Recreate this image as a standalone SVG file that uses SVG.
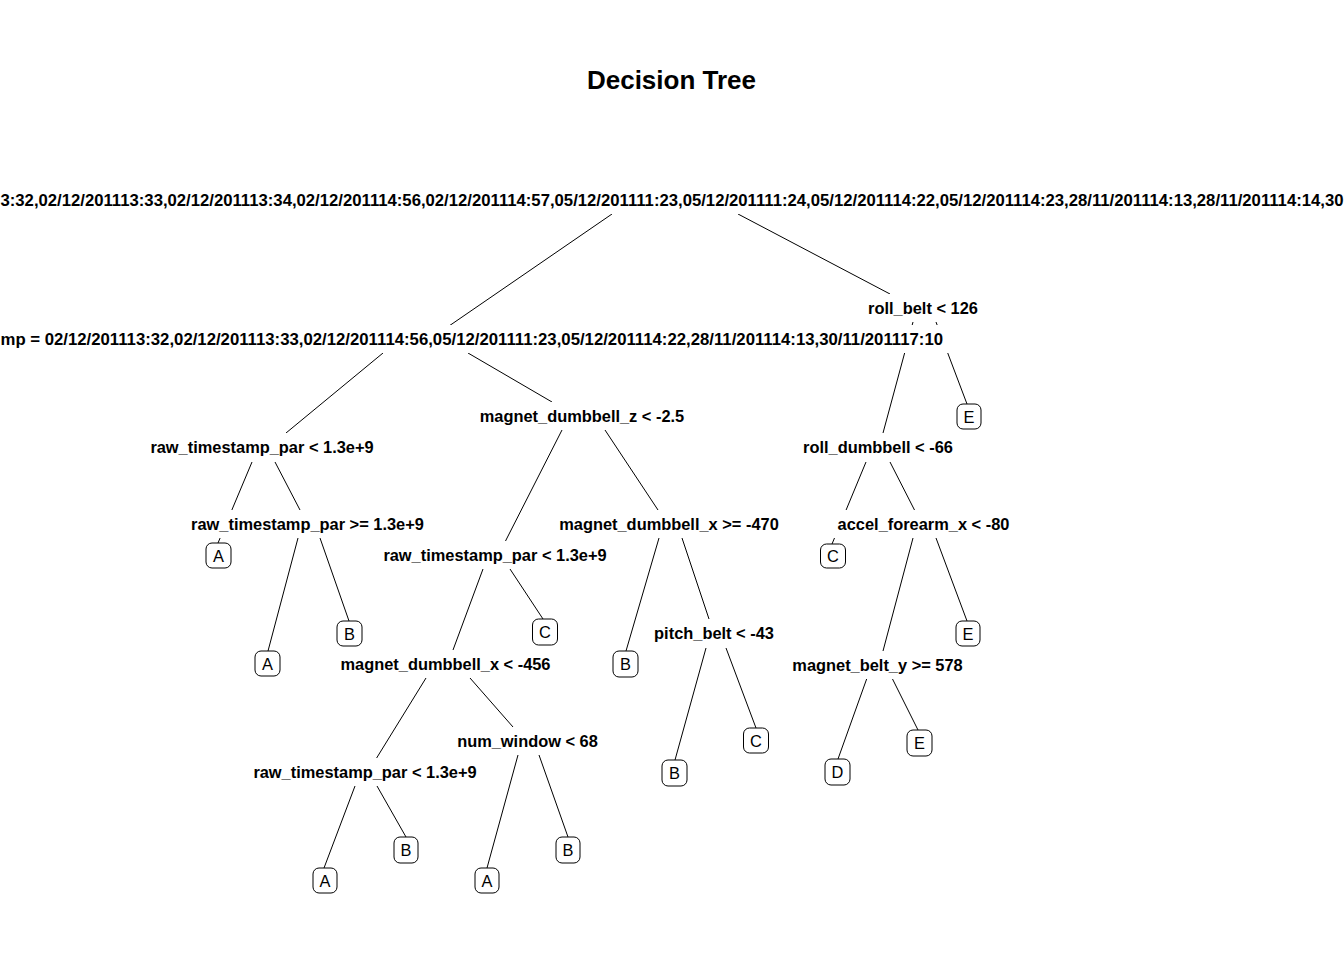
<svg xmlns="http://www.w3.org/2000/svg" width="1344" height="960" viewBox="0 0 1344 960">
<style>
.bg{fill:#fff}
.lbl{font-family:"Liberation Sans",Arial,sans-serif;font-weight:bold;font-size:16.4px;fill:#000;text-anchor:middle}
.lbox{fill:#fff;stroke:none}
.leaf rect{fill:#fff;stroke:#000;stroke-width:1}
.leaf text{font-family:"Liberation Sans",Arial,sans-serif;font-size:16.4px;fill:#000;text-anchor:middle}
#connectors line{stroke:#000;stroke-width:1;fill:none}
.title{font-family:"Liberation Sans",Arial,sans-serif;font-weight:bold;font-size:26px;fill:#000;text-anchor:middle}
</style>
<rect class="bg" x="0" y="0" width="1344" height="960"/>
<text class="title" x="671.5" y="89">Decision Tree</text>
<g id="connectors">
<line x1="612" y1="214" x2="449" y2="326"/>
<line x1="738" y1="214" x2="890" y2="294"/>
<line x1="383" y1="353" x2="286" y2="433"/>
<line x1="468" y1="353" x2="552" y2="402"/>
<line x1="913" y1="322" x2="883" y2="433"/>
<line x1="936" y1="322" x2="967" y2="404"/>
<line x1="252" y1="462" x2="218" y2="543"/>
<line x1="275" y1="462" x2="300" y2="510"/>
<line x1="562" y1="430" x2="505" y2="542"/>
<line x1="605" y1="430" x2="658" y2="510"/>
<line x1="866" y1="462" x2="832" y2="544"/>
<line x1="890" y1="462" x2="915" y2="511"/>
<line x1="298" y1="538" x2="268" y2="651"/>
<line x1="320" y1="538" x2="349" y2="621"/>
<line x1="483" y1="569" x2="453" y2="650"/>
<line x1="510" y1="569" x2="543" y2="619"/>
<line x1="659" y1="538" x2="626" y2="651"/>
<line x1="682" y1="538" x2="709" y2="619"/>
<line x1="913" y1="538" x2="883" y2="651"/>
<line x1="936" y1="538" x2="967" y2="621"/>
<line x1="426" y1="678" x2="376" y2="759"/>
<line x1="470" y1="678" x2="513" y2="727"/>
<line x1="706" y1="648" x2="675" y2="760"/>
<line x1="726" y1="648" x2="756" y2="728"/>
<line x1="867" y1="678" x2="838" y2="759"/>
<line x1="892" y1="678" x2="918" y2="730"/>
<line x1="355" y1="786" x2="324" y2="868"/>
<line x1="377" y1="786" x2="406" y2="837"/>
<line x1="518" y1="755" x2="487" y2="868"/>
<line x1="539" y1="755" x2="568" y2="837"/>
</g>
<g id="n-root">
<rect class="lbox" x="0" y="186" width="1344" height="28"/>
<text class="lbl" x="0.5" y="206" style="text-anchor:start" textLength="1343" lengthAdjust="spacingAndGlyphs">3:32,02/12/201113:33,02/12/201113:34,02/12/201114:56,02/12/201114:57,05/12/201111:23,05/12/201111:24,05/12/201114:22,05/12/201114:23,28/11/201114:13,28/11/201114:14,30</text>
</g>
<g id="n-cvtd">
<rect class="lbox" x="0" y="325" width="949" height="28"/>
<text class="lbl" x="0.5" y="345" style="text-anchor:start" textLength="942.5" lengthAdjust="spacingAndGlyphs">mp = 02/12/201113:32,02/12/201113:33,02/12/201114:56,05/12/201111:23,05/12/201114:22,28/11/201114:13,30/11/201117:10</text>
</g>
<g id="n-roll-belt">
<rect class="lbox" x="863" y="294" width="120" height="28"/>
<text class="lbl" x="923" y="314">roll_belt &lt; 126</text>
</g>
<g id="n-raw1">
<rect class="lbox" x="145" y="433" width="234" height="28"/>
<text class="lbl" x="262" y="453">raw_timestamp_par &lt; 1.3e+9</text>
</g>
<g id="n-mdz">
<rect class="lbox" x="474" y="402" width="216" height="28"/>
<text class="lbl" x="582" y="422">magnet_dumbbell_z &lt; -2.5</text>
</g>
<g id="n-roll-dumbbell">
<rect class="lbox" x="798" y="433" width="160" height="28"/>
<text class="lbl" x="878" y="453">roll_dumbbell &lt; -66</text>
</g>
<g id="n-raw2">
<rect class="lbox" x="185" y="510" width="245" height="28"/>
<text class="lbl" x="307.5" y="530">raw_timestamp_par &gt;= 1.3e+9</text>
</g>
<g id="n-raw3">
<rect class="lbox" x="377" y="541" width="236" height="28"/>
<text class="lbl" x="495" y="561">raw_timestamp_par &lt; 1.3e+9</text>
</g>
<g id="n-mdx1">
<rect class="lbox" x="554" y="510" width="230" height="28"/>
<text class="lbl" x="669" y="530">magnet_dumbbell_x &gt;= -470</text>
</g>
<g id="n-accel">
<rect class="lbox" x="832" y="510" width="183" height="28"/>
<text class="lbl" x="923.5" y="530">accel_forearm_x &lt; -80</text>
</g>
<g id="n-mdx2">
<rect class="lbox" x="336" y="650" width="219" height="28"/>
<text class="lbl" x="445.5" y="670">magnet_dumbbell_x &lt; -456</text>
</g>
<g id="n-pitch">
<rect class="lbox" x="648" y="619" width="132" height="28"/>
<text class="lbl" x="714" y="639">pitch_belt &lt; -43</text>
</g>
<g id="n-mby">
<rect class="lbox" x="787" y="651" width="181" height="28"/>
<text class="lbl" x="877.5" y="670.5">magnet_belt_y &gt;= 578</text>
</g>
<g id="n-raw4">
<rect class="lbox" x="247" y="758" width="236" height="28"/>
<text class="lbl" x="365" y="778">raw_timestamp_par &lt; 1.3e+9</text>
</g>
<g id="n-numwin">
<rect class="lbox" x="452" y="727" width="151" height="28"/>
<text class="lbl" x="527.5" y="747">num_window &lt; 68</text>
</g>
<g id="leaf-a1" class="leaf"><rect x="206" y="543" width="25" height="25" rx="6"/><text x="218.5" y="561.5">A</text></g>
<g id="leaf-e1" class="leaf"><rect x="957" y="404" width="24" height="25" rx="6"/><text x="969" y="422.5">E</text></g>
<g id="leaf-c1" class="leaf"><rect x="820.5" y="544" width="25" height="24" rx="6"/><text x="833" y="562">C</text></g>
<g id="leaf-a2" class="leaf"><rect x="255" y="651" width="25" height="25" rx="6"/><text x="267.5" y="669.5">A</text></g>
<g id="leaf-b1" class="leaf"><rect x="337" y="621" width="25" height="25" rx="6"/><text x="349.5" y="639.5">B</text></g>
<g id="leaf-c2" class="leaf"><rect x="532.5" y="619" width="25" height="26" rx="6"/><text x="545" y="638">C</text></g>
<g id="leaf-b2" class="leaf"><rect x="613" y="651" width="25" height="26" rx="6"/><text x="625.5" y="670">B</text></g>
<g id="leaf-e2" class="leaf"><rect x="956" y="621" width="24" height="25" rx="6"/><text x="968" y="639.5">E</text></g>
<g id="leaf-b3" class="leaf"><rect x="662" y="760" width="25" height="26" rx="6"/><text x="674.5" y="779">B</text></g>
<g id="leaf-c3" class="leaf"><rect x="743.5" y="728" width="25" height="25" rx="6"/><text x="756" y="746.5">C</text></g>
<g id="leaf-d" class="leaf"><rect x="825" y="759" width="25" height="26" rx="6"/><text x="837.5" y="778">D</text></g>
<g id="leaf-e3" class="leaf"><rect x="907" y="730" width="25" height="26" rx="6"/><text x="919.5" y="749">E</text></g>
<g id="leaf-a3" class="leaf"><rect x="313" y="868" width="24" height="25" rx="6"/><text x="325" y="886.5">A</text></g>
<g id="leaf-b4" class="leaf"><rect x="394" y="837" width="24" height="26" rx="6"/><text x="406" y="856">B</text></g>
<g id="leaf-a4" class="leaf"><rect x="475" y="868" width="24" height="25" rx="6"/><text x="487" y="886.5">A</text></g>
<g id="leaf-b5" class="leaf"><rect x="556" y="837" width="24" height="26" rx="6"/><text x="568" y="856">B</text></g>
</svg>
